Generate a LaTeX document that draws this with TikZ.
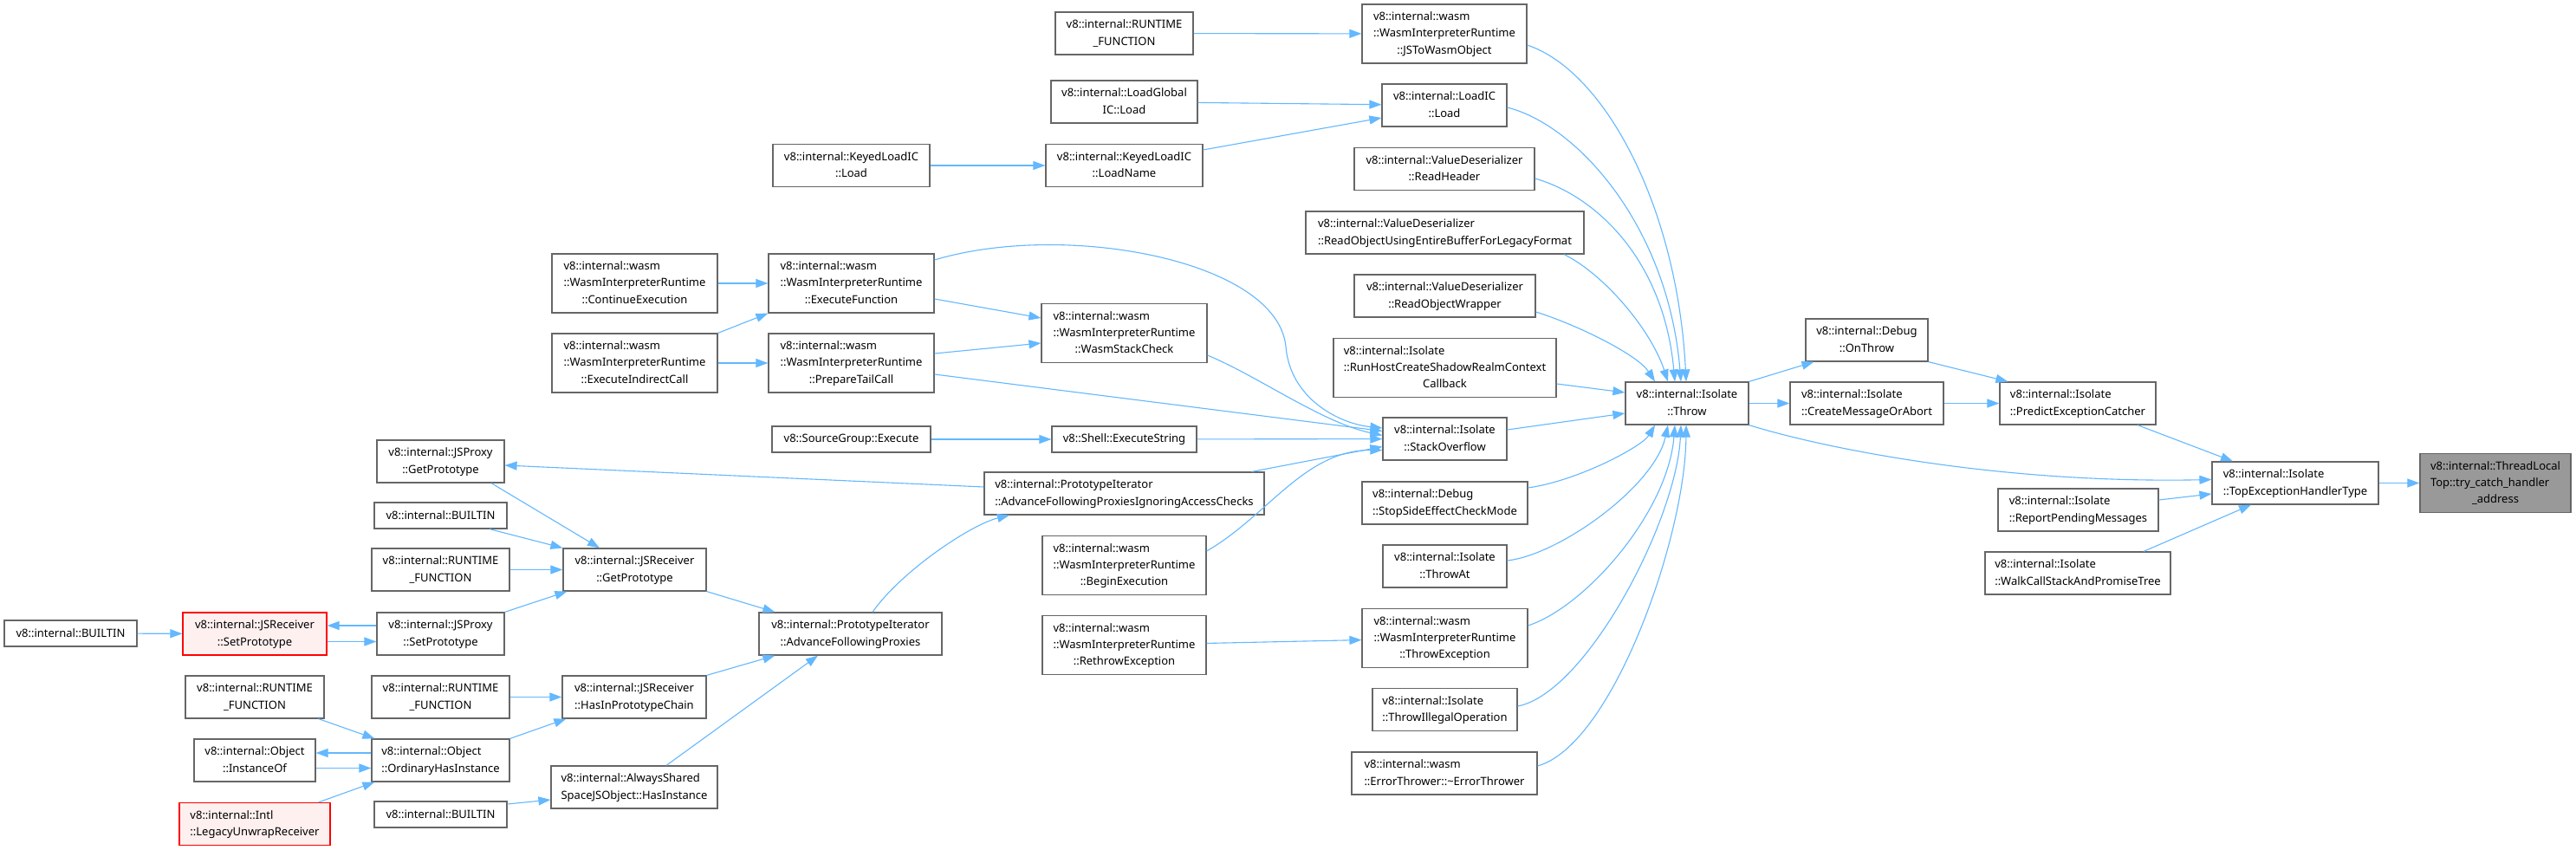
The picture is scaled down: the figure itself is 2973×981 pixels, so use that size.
\documentclass[tikz,border=0pt]{standalone}
\usepackage{fontspec}
\setmainfont{Noto Sans}
\usepackage{tikz}
\usetikzlibrary{arrows.meta}
\definecolor{edgeblue}{HTML}{63B8FF}
\definecolor{nodegray}{HTML}{666666}
\definecolor{truncfill}{HTML}{FFF0F0}
\definecolor{focusfill}{HTML}{999999}
% doxygen style labels: upper lines left, last line centred
\newcommand{\fnl}[2]{\begin{tabular}{@{}l@{}}#1\\\multicolumn{1}{@{}c@{}}{#2}\end{tabular}}
\newcommand{\rtfn}{\fnl{v8::internal::RUNTIME}{\_FUNCTION}}
\newcommand{\wasmrt}[1]{\fnl{v8::internal::wasm\\::WasmInterpreterRuntime}{#1}}
\tikzset{
  fn/.style    = {rectangle, draw=nodegray, fill=white, line width=1.2pt, inner sep=0pt,
                  minimum height=49pt, font=\fontsize{13pt}{19.3pt}\selectfont},
  one/.style   = {minimum height=30pt},
  three/.style = {minimum height=68pt},
  wd/.style    = {minimum width=#1pt},
  trunc/.style = {draw=red, fill=truncfill},
  focus/.style = {fill=focusfill},
  call/.style  = {draw=edgeblue, line width=1.1pt, -{Triangle[length=14pt,width=10pt]}}
}
\begin{document}
\begin{tikzpicture}[x=1pt, y=-1pt]
  \fill[white] (0,0) rectangle (2973,981);
  \path[use as bounding box] (0,0) rectangle (2973,981);

  % right part
  \node[fn, three, focus, wd=174] (tlt) at (2880,557.5) {\fnl{v8::internal::ThreadLocal\\Top::try\_catch\_handler}{\_address}};
  \node[fn, wd=192] (teht)    at (2649,557.5) {\fnl{v8::internal::Isolate}{::TopExceptionHandlerType}};
  \node[fn, wd=180] (pec)     at (2398,465.5) {\fnl{v8::internal::Isolate}{::PredictExceptionCatcher}};
  \node[fn, wd=185] (rpm)     at (2398.5,588.5) {\fnl{v8::internal::Isolate}{::ReportPendingMessages}};
  \node[fn, wd=214] (wcs)     at (2398,661.5) {\fnl{v8::internal::Isolate}{::WalkCallStackAndPromiseTree}};
  \node[fn, wd=141] (onthrow) at (2154.5,392.5) {\fnl{v8::internal::Debug}{::OnThrow}};
  \node[fn, wd=177] (cmoa)    at (2154.5,465.5) {\fnl{v8::internal::Isolate}{::CreateMessageOrAbort}};
  \node[fn, wd=142] (throw)   at (1947,465.5) {\fnl{v8::internal::Isolate}{::Throw}};

  % callers of Throw
  \node[fn, three, wd=190] (j2w)     at (1667,39) {\wasmrt{::JSToWasmObject}};
  \node[fn, wd=144] (loadic)         at (1667,121.5) {\fnl{v8::internal::LoadIC}{::Load}};
  \node[fn, wd=208] (rhdr)           at (1667,195) {\fnl{v8::internal::ValueDeserializer}{::ReadHeader}};
  \node[fn, wd=321] (robuf)          at (1667.5,268.5) {\fnl{v8::internal::ValueDeserializer}{::ReadObjectUsingEntireBufferForLegacyFormat}};
  \node[fn, wd=209] (rowrap)         at (1667.5,341.5) {\fnl{v8::internal::ValueDeserializer}{::ReadObjectWrapper}};
  \node[fn, three, wd=257] (runhost) at (1667.5,424.5) {\fnl{v8::internal::Isolate\\::RunHostCreateShadowRealmContext}{Callback}};
  \node[fn, wd=143] (so)             at (1667.5,506.5) {\fnl{v8::internal::Isolate}{::StackOverflow}};
  \node[fn, wd=191] (sse)            at (1667.5,580.5) {\fnl{v8::internal::Debug}{::StopSideEffectCheckMode}};
  \node[fn, wd=143] (throwat)        at (1667.5,653.5) {\fnl{v8::internal::Isolate}{::ThrowAt}};
  \node[fn, three, wd=191] (thrwex)  at (1667.5,736.5) {\wasmrt{::ThrowException}};
  \node[fn, wd=167] (tio)            at (1667.5,819) {\fnl{v8::internal::Isolate}{::ThrowIllegalOperation}};
  \node[fn, wd=214] (et)             at (1667,892.5) {\fnl{v8::internal::wasm}{::ErrorThrower::\textasciitilde ErrorThrower}};

  % second column
  \node[fn, wd=159] (rtf1)           at (1297.5,38.5) {\rtfn};
  \node[fn, wd=169] (lgic)           at (1297.5,117.5) {\fnl{v8::internal::LoadGlobal}{IC::Load}};
  \node[fn, wd=181] (kln)            at (1297.5,191) {\fnl{v8::internal::KeyedLoadIC}{::LoadName}};
  \node[fn, three, wd=191] (wsc)     at (1297.5,384.5) {\wasmrt{::WasmStackCheck}};
  \node[fn, one, wd=167] (shell)     at (1297.5,507) {v8::Shell::ExecuteString};
  \node[fn, wd=323] (afpiac)         at (1297.5,569.5) {\fnl{v8::internal::PrototypeIterator}{::AdvanceFollowingProxiesIgnoringAccessChecks}};
  \node[fn, three, wd=189] (begex)   at (1297.5,652.5) {\wasmrt{::BeginExecution}};
  \node[fn, three, wd=189] (rethrow) at (1297.5,744.5) {\wasmrt{::RethrowException}};

  \node[fn, wd=181] (kl)             at (982.5,191) {\fnl{v8::internal::KeyedLoadIC}{::Load}};
  \node[fn, three, wd=191] (exfn)    at (982.5,327) {\wasmrt{::ExecuteFunction}};
  \node[fn, three, wd=191] (ptc)     at (982.5,419) {\wasmrt{::PrepareTailCall}};
  \node[fn, one, wd=183] (sge)       at (982.5,507) {v8::SourceGroup::Execute};
  \node[fn, wd=211] (afp)            at (981.5,731.5) {\fnl{v8::internal::PrototypeIterator}{::AdvanceFollowingProxies}};

  \node[fn, three, wd=191] (contex)  at (732.5,327) {\wasmrt{::ContinueExecution}};
  \node[fn, three, wd=191] (exind)   at (732.5,419) {\wasmrt{::ExecuteIndirectCall}};
  \node[fn, wd=165] (jrgp)           at (732.5,657.5) {\fnl{v8::internal::JSReceiver}{::GetPrototype}};
  \node[fn, wd=166] (hipc)           at (732,804.5) {\fnl{v8::internal::JSReceiver}{::HasInPrototypeChain}};
  \node[fn, wd=192] (ashi)           at (732,908.5) {\fnl{v8::internal::AlwaysShared}{SpaceJSObject::HasInstance}};

  % left part
  \node[fn, wd=147] (jpgp)           at (508.5,532.5) {\fnl{v8::internal::JSProxy}{::GetPrototype}};
  \node[fn, one, wd=153] (bi1)       at (508.5,595) {v8::internal::BUILTIN};
  \node[fn, wd=159] (rtf2)           at (508.5,657.5) {\rtfn};
  \node[fn, wd=147] (jpsp)           at (508.5,731.5) {\fnl{v8::internal::JSProxy}{::SetPrototype}};
  \node[fn, wd=159] (rtf3)           at (508.5,804.5) {\rtfn};
  \node[fn, wd=159] (ohi)            at (508.5,877.5) {\fnl{v8::internal::Object}{::OrdinaryHasInstance}};
  \node[fn, one, wd=153] (bi2)       at (508.5,940) {v8::internal::BUILTIN};

  \node[fn, trunc, wd=166] (jrsp)    at (294,731.5) {\fnl{v8::internal::JSReceiver}{::SetPrototype}};
  \node[fn, wd=160] (rtf4)           at (294,804.5) {\rtfn};
  \node[fn, wd=140] (iof)            at (294,877.5) {\fnl{v8::internal::Object}{::InstanceOf}};
  \node[fn, trunc, wd=174] (lur)     at (294,951) {\fnl{v8::internal::Intl}{::LegacyUnwrapReceiver}};
  \node[fn, one, wd=153] (bi0)       at (81.5,731) {v8::internal::BUILTIN};

  % right part edges
  \draw[call] (teht) -- (tlt);
  \draw[call] ([xshift=69pt]pec.south) -- ([xshift=-72pt]teht.north);
  \draw[call] (throw.south east) .. controls +(80,25) and +(-250,5) .. ([yshift=4pt]teht.west);
  \draw[call] ([yshift=11.5pt]rpm.east) -- ([yshift=-12.5pt]teht.west);
  \draw[call] ([xshift=76pt]wcs.north) -- ([xshift=-51pt]teht.south);
  \draw[call] (throw.north east) -- ([xshift=10pt]onthrow.south west);
  \draw[call] (throw) -- (cmoa);
  \draw[call] (onthrow.south east) -- ([xshift=10pt]pec.north west);
  \draw[call] (cmoa) -- (pec);

  % into Throw
  \draw[call] ([yshift=-13pt]j2w.east) .. controls +(90,30) and +(-10,-200) .. ([xshift=-1pt]throw.north);
  \draw[call] ([yshift=-2.5pt]loadic.east) .. controls +(80,20) and +(-15,-180) .. ([xshift=-7pt]throw.north);
  \draw[call] ([yshift=-11pt]rhdr.east) .. controls +(70,20) and +(-13,-141) .. ([xshift=-14pt]throw.north);
  \draw[call] ([xshift=137.5pt]robuf.south) .. controls +(45,22) and +(-20,-61) .. ([xshift=-22pt]throw.north);
  \draw[call] ([yshift=-18.5pt]rowrap.east) .. controls +(48,15) and +(-20,-31) .. ([xshift=-37pt]throw.north);
  \draw[call] ([yshift=-18.5pt]runhost.east) -- ([yshift=12.5pt]throw.west);
  \draw[call] ([yshift=10.5pt]so.east) -- ([yshift=-11.5pt]throw.west);
  \draw[call] ([yshift=17.5pt]sse.east) .. controls +(57,-8) and +(-15,25) .. ([xshift=-37pt]throw.south);
  \draw[call] ([yshift=6.5pt]throwat.east) .. controls +(61,-7) and +(-15,70) .. ([xshift=-22pt]throw.south);
  \draw[call] ([yshift=14.5pt]thrwex.east) .. controls +(67,-22) and +(-8,100) .. ([xshift=-14pt]throw.south);
  \draw[call] ([yshift=4pt]tio.east) .. controls +(79,-15) and +(-5,110) .. ([xshift=-7pt]throw.south);
  \draw[call] ([yshift=8.5pt]et.east) .. controls +(86,-24) and +(-1,130) .. ([xshift=-1pt]throw.south);

  \draw[call] (rtf1) -- (j2w);
  \draw[call] (lgic) -- (loadic);
  \draw[call] ([yshift=18pt]kln.east) -- ([yshift=-14.5pt]loadic.west);
  \draw[call] (kl) -- (kln);
  \draw[call] (rethrow) -- (thrwex);

  % into StackOverflow
  \draw[call] ([yshift=27pt]exfn.east) .. controls +(150,-45) and +(-10,-100) .. (1484,400)
    .. controls +(5,60) and +(-50,-5) .. ([yshift=12.5pt]so.west);
  \draw[call] ([yshift=-25.5pt]wsc.east) .. controls +(60,25) and +(-70,-15) .. ([yshift=4pt]so.west);
  \draw[call] ([yshift=-13pt]ptc.east) -- ([yshift=9pt]so.west);
  \draw[call] (shell) -- (so);
  \draw[call] ([xshift=-15pt]afpiac.north east) -- ([yshift=-9pt]so.west);
  \draw[call] ([yshift=16.5pt]begex.east) .. controls +(70,-40) and +(-90,0) .. ([yshift=-13pt]so.west);
  \draw[call] (sge) -- (shell);

  % left part edges
  \draw[call] ([yshift=7.5pt]afpiac.west) -- ([yshift=-4.5pt]jpgp.east);
  \draw[call] ([xshift=25.5pt]afp.north) .. controls +(33,-47) and +(-45,11) .. ([xshift=-132.5pt]afpiac.south);
  \draw[call] (contex) -- (exfn);
  \draw[call] (exind.north east) -- (exfn.south west);
  \draw[call] (exind) -- (ptc);
  \draw[call] ([yshift=-18pt]exfn.east) -- ([yshift=17.5pt]wsc.west);
  \draw[call] ([yshift=11pt]ptc.east) -- ([yshift=-11.5pt]wsc.west);
  \draw[call] ([xshift=58.5pt]jpgp.south) -- ([xshift=-40.5pt]jrgp.north);
  \draw[call] ([xshift=56.5pt]bi1.south) -- (jrgp.north west);
  \draw[call] (rtf2) -- (jrgp);
  \draw[call] (jpsp.north east) -- ([xshift=5pt]jrgp.south west);
  \draw[call] (jrgp.south east) -- ([xshift=19pt]afp.north west);
  \draw[call] (hipc.north east) -- ([xshift=19pt]afp.south west);
  \draw[call] ([xshift=37pt]ashi.north) -- ([xshift=-37.5pt]afp.south);
  \draw[call] (bi0) -- (jrsp);
  \draw[call] ([yshift=9.5pt]jpsp.west) -- ([yshift=9.5pt]jrsp.east);
  \draw[call] ([yshift=-9pt]jrsp.east) -- ([yshift=-9pt]jpsp.west);
  \draw[call] (rtf3) -- (hipc);
  \draw[call] (ohi.north east) -- ([xshift=5pt]hipc.south west);
  \draw[call] ([xshift=-7pt]rtf4.south east) -- ([xshift=4pt]ohi.north west);
  \draw[call] ([yshift=8.5pt]ohi.west) -- ([yshift=8.5pt]iof.east);
  \draw[call] ([yshift=-9pt]iof.east) -- ([yshift=-9pt]ohi.west);
  \draw[call] ([xshift=-14pt]lur.north east) -- ([xshift=4pt]ohi.south west);
  \draw[call] ([yshift=12pt]bi2.east) -- ([yshift=-14.5pt]ashi.west);
\end{tikzpicture}
\end{document}
